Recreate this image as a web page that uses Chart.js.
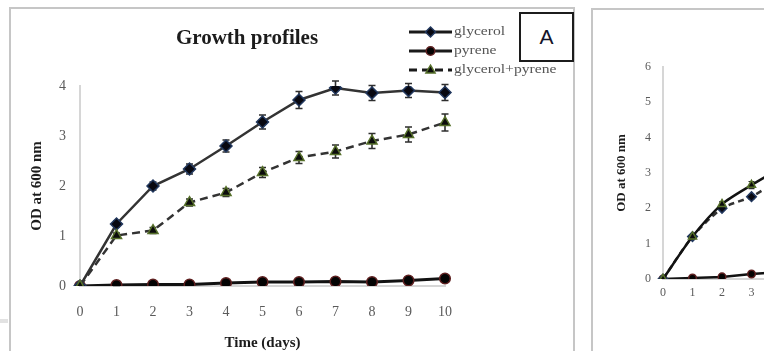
<!DOCTYPE html>
<html>
<head>
<meta charset="utf-8">
<script src="https://cdn.jsdelivr.net/npm/chart.js@4/dist/chart.umd.min.js"></script>
<style>
html,body{margin:0;padding:0;width:764px;height:351px;overflow:hidden;background:#fff;}
.panel{position:absolute;border:2px solid #c6c6c6;box-sizing:border-box;}
#pA{left:9px;top:7px;width:566px;height:420px;}
#pB{left:591px;top:8px;width:420px;height:420px;}
#cA{position:absolute;left:10px;top:8px;}
#cB{position:absolute;left:592px;top:8px;}
#boxA{position:absolute;left:519px;top:12px;width:55px;height:50px;border:2px solid #1c1c1c;box-sizing:border-box;background:#fff;
  font:21px "Liberation Sans",Arial,sans-serif;color:#141428;display:flex;align-items:center;justify-content:center;}
#mark{position:absolute;left:0;top:319px;width:8px;height:4px;background:#e2e2e2;}
</style>
</head>
<body>
<div id="mark"></div>
<div class="panel" id="pA"></div>
<div class="panel" id="pB"></div>
<canvas id="cA" width="564" height="360"></canvas>
<canvas id="cB" width="420" height="360"></canvas>
<div id="boxA">A</div>
<script>
// ---------- data ----------
const days = ['0','1','2','3','4','5','6','7','8','9','10'];
const yTicksA = [0, 1, 2, 3, 4];
const yTicksB = [0, 1, 2, 3, 4, 5, 6];
const titleA = 'Growth profiles';
const xTitle = 'Time (days)';
const yTitle = 'OD at 600 nm';
const seriesNames = ['glycerol', 'pyrene', 'glycerol+pyrene'];

// Panel A
const glycerolA    = [0, 1.24, 2.00, 2.34, 2.80, 3.28, 3.72, 3.96, 3.86, 3.91, 3.87];
const glycerolErrA = [0, 0.06, 0.08, 0.10, 0.12, 0.14, 0.17, 0.14, 0.15, 0.14, 0.16];
const pyreneA      = [0, 0.02, 0.03, 0.03, 0.06, 0.08, 0.08, 0.09, 0.08, 0.11, 0.15];
const pyreneErrA   = [0, 0.01, 0.01, 0.01, 0.01, 0.01, 0.01, 0.01, 0.01, 0.01, 0.02];
const glyPyrA      = [0, 1.01, 1.11, 1.67, 1.87, 2.27, 2.57, 2.69, 2.90, 3.03, 3.27];
const glyPyrErrA   = [0, 0.05, 0.06, 0.07, 0.08, 0.10, 0.12, 0.13, 0.15, 0.15, 0.17];

// Panel B (only days 0-4 are visible in the cropped reference)
const triSolidB    = [0, 1.20, 2.12, 2.66, 3.15];
const triSolidErrB = [0, 0.04, 0.06, 0.10, 0.10];
const diaDashedB   = [0, 1.20, 2.00, 2.33, 2.85];
const diaDashedErrB= [0, 0.04, 0.06, 0.06, 0.08];
const circleB      = [0, 0.03, 0.06, 0.14, 0.20];

// ---------- helpers ----------
const SERIF = '"Liberation Serif","DejaVu Serif","Times New Roman",serif';

function drawMarker(ctx, style, x, y, r, fill, stroke, bw) {
  ctx.save();
  ctx.fillStyle = fill; ctx.strokeStyle = stroke; ctx.lineWidth = bw; ctx.setLineDash([]);
  ctx.beginPath();
  if (style === 'circle') {
    ctx.arc(x, y, r, 0, Math.PI * 2);
  } else if (style === 'rectRot') {
    ctx.moveTo(x, y - r); ctx.lineTo(x + r, y); ctx.lineTo(x, y + r); ctx.lineTo(x - r, y);
  } else if (style === 'triangle') {
    ctx.moveTo(x, y - r); ctx.lineTo(x + r * 0.95, y + r * 0.6); ctx.lineTo(x - r * 0.95, y + r * 0.6);
  }
  ctx.closePath(); ctx.fill(); ctx.stroke();
  ctx.restore();
}

const errorBarPlugin = {
  id: 'errorBars',
  beforeDatasetsDraw(chart, args, opts) {
    const ctx = chart.ctx, ys = chart.scales.y;
    chart.data.datasets.forEach((ds, i) => {
      const errs = ds.errors;
      if (!errs) return;
      const meta = chart.getDatasetMeta(i);
      meta.data.forEach((pt, j) => {
        const e = errs[j], v = ds.data[j];
        if (!e || v == null) return;
        const yt = ys.getPixelForValue(v + e), yb = ys.getPixelForValue(v - e);
        ctx.save();
        ctx.strokeStyle = opts.color; ctx.lineWidth = opts.width; ctx.setLineDash([]);
        ctx.beginPath();
        ctx.moveTo(pt.x, yt); ctx.lineTo(pt.x, yb);
        ctx.moveTo(pt.x - opts.cap, yt); ctx.lineTo(pt.x + opts.cap, yt);
        ctx.moveTo(pt.x - opts.cap, yb); ctx.lineTo(pt.x + opts.cap, yb);
        ctx.stroke();
        ctx.restore();
      });
    });
  }
};

const titleLegendA = {
  id: 'titleLegendA',
  afterDraw(chart) {
    const ctx = chart.ctx;
    ctx.save();
    ctx.fillStyle = '#1c1c1c';
    ctx.font = 'bold 21px ' + SERIF;
    ctx.textAlign = 'center'; ctx.textBaseline = 'middle';
    ctx.fillText(titleA, 237, 31);
    ctx.restore();
    const rows = [24, 43, 62];
    seriesNames.forEach((name, k) => {
      const ds = chart.data.datasets.find(d => d.label === name);
      const y = rows[k];
      ctx.save();
      ctx.strokeStyle = '#1a1a1a'; ctx.lineWidth = 3;
      ctx.setLineDash(ds.borderDash || []);
      ctx.beginPath(); ctx.moveTo(399, y); ctx.lineTo(442, y); ctx.stroke();
      ctx.restore();
      drawMarker(ctx, ds.pointStyle, 420.5, y, ds.pointRadius - 1, ds.pointBackgroundColor, ds.pointBorderColor, ds.pointBorderWidth);
      ctx.save();
      ctx.fillStyle = '#555555';
      ctx.font = '13px ' + SERIF;
      ctx.textAlign = 'left'; ctx.textBaseline = 'middle';
      ctx.translate(444, y); ctx.scale(1.2, 1);
      ctx.fillText(name, 0, 0);
      ctx.restore();
    });
  }
};

function lineDs(label, data, errs, kind, order, small) {
  const k = small ? 0.8 : 1;
  const styles = {
    glycerol: {pointStyle: 'rectRot', pointRadius: 6 * k, pointBackgroundColor: '#080810', pointBorderColor: '#22385e', borderColor: '#333333', borderWidth: 2.5},
    pyrene:   {pointStyle: 'circle', pointRadius: 5.3 * k, pointBackgroundColor: '#030303', pointBorderColor: '#5e2020', borderColor: '#121212', borderWidth: 3},
    glyPyr:   {pointStyle: 'triangle', pointRadius: 5.8 * k, pointBackgroundColor: '#0c0c0c', pointBorderColor: '#56702a', borderColor: '#333333', borderWidth: 2.5}
  };
  return Object.assign({
    label, data, errors: errs, order,
    pointBorderWidth: 1.5, pointHoverRadius: 5, fill: false, tension: 0
  }, styles[kind]);
}

function scaleOpts(cfg) {
  return {
    x: {
      type: 'category', offset: false,
      grid: {display: false, drawTicks: false},
      border: {display: true, color: '#d6d6d6', width: 2},
      ticks: {color: '#5a5a5a', font: {family: SERIF, size: cfg.tickSize}, padding: cfg.xPad, maxRotation: 0, autoSkip: false},
      title: {display: cfg.xTitle, text: xTitle, color: '#1c1c1c', font: {family: SERIF, size: 15, weight: 'bold'}, padding: {top: 0, bottom: 16}},
      afterFit: s => { s.height = cfg.xH; }
    },
    y: {
      min: cfg.yt[0], max: cfg.yt[cfg.yt.length - 1],
      grid: {display: false, drawTicks: false},
      border: {display: true, color: '#d6d6d6', width: 2},
      ticks: {stepSize: 1, color: '#5a5a5a', font: {family: SERIF, size: cfg.tickSize}, padding: cfg.yPad},
      title: {display: true, text: yTitle, color: '#1c1c1c', font: {family: SERIF, size: cfg.yTitleSize, weight: 'bold'}, padding: {top: cfg.yTitlePad, bottom: 0}},
      afterFit: s => { s.width = cfg.yW; }
    }
  };
}

// ---------- Panel A ----------
const dsA1 = lineDs(seriesNames[2], glyPyrA, glyPyrErrA, 'glyPyr', 0);
dsA1.borderDash = [8, 5];
const dsA2 = lineDs(seriesNames[0], glycerolA, glycerolErrA, 'glycerol', 1);
const dsA3 = lineDs(seriesNames[1], pyreneA, pyreneErrA, 'pyrene', 2);

new Chart(document.getElementById('cA'), {
  type: 'line',
  data: {labels: days, datasets: [dsA1, dsA2, dsA3]},
  options: {
    responsive: false, animation: false, devicePixelRatio: 1,
    layout: {padding: {top: 78, right: 129, left: 0, bottom: 0}},
    plugins: {legend: {display: false}, title: {display: false}, tooltip: {enabled: false},
      errorBars: {color: '#2e2e2e', width: 1.6, cap: 3.5}},
    scales: scaleOpts({tickSize: 14, xPad: 17.6, yPad: 14, xH: 82, yW: 70, yt: yTicksA, yTitleSize: 15, yTitlePad: 18, xTitle: true})
  },
  plugins: [errorBarPlugin, titleLegendA]
});

// ---------- Panel B ----------
const dsB1 = lineDs('glycerol+pyrene', triSolidB, triSolidErrB, 'glyPyr', 0, true);
dsB1.borderColor = '#121212'; dsB1.tension = 0.25;
const dsB2 = lineDs('glycerol', diaDashedB, diaDashedErrB, 'glycerol', 1, true);
dsB2.borderDash = [6, 4]; dsB2.tension = 0.25;
const dsB3 = lineDs('pyrene', circleB, null, 'pyrene', 2, true);
dsB3.pointRadius = 3.8; dsB3.borderWidth = 2.5;

new Chart(document.getElementById('cB'), {
  type: 'line',
  data: {labels: days, datasets: [dsB1, dsB2, dsB3]},
  options: {
    responsive: false, animation: false, devicePixelRatio: 1,
    layout: {padding: {top: 59, right: 54, left: 0, bottom: 0}},
    plugins: {legend: {display: false}, title: {display: false}, tooltip: {enabled: false},
      errorBars: {color: '#2e2e2e', width: 1.2, cap: 3}},
    scales: scaleOpts({tickSize: 12, xPad: 6.8, yPad: 12, xH: 89, yW: 71, yt: yTicksB, yTitleSize: 13, yTitlePad: 22, xTitle: false})
  },
  plugins: [errorBarPlugin]
});
</script>
</body>
</html>
